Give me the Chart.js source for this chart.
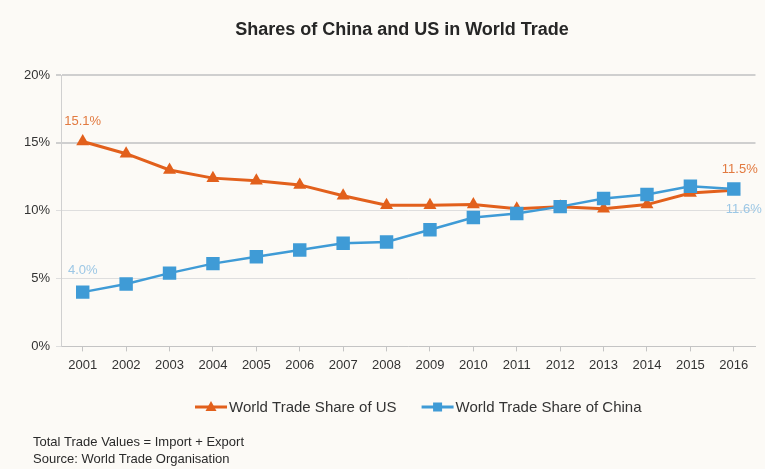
<!DOCTYPE html>
<html>
<head>
<meta charset="utf-8">
<script src="https://cdn.jsdelivr.net/npm/chart.js@4/dist/chart.umd.min.js"></script>
<style>
  html, body { margin: 0; padding: 0; background: #fcfaf6; }
  #wrap { position: relative; width: 765px; height: 469px; }
</style>
</head>
<body>
<div id="wrap"><canvas id="c" width="765" height="469"></canvas></div>
<script>
const years = ['2001','2002','2003','2004','2005','2006','2007','2008','2009','2010','2011','2012','2013','2014','2015','2016'];
const usShare =    [15.1, 14.2, 13.0, 12.4, 12.2, 11.9, 11.1, 10.4, 10.4, 10.45, 10.15, 10.3, 10.15, 10.45, 11.3, 11.5];
const chinaShare = [4.0, 4.6, 5.4, 6.1, 6.6, 7.1, 7.6, 7.7, 8.6, 9.5, 9.8, 10.3, 10.9, 11.2, 11.8, 11.6];
const yTicks = [0, 5, 10, 15, 20];
const titleText = 'Shares of China and US in World Trade';
const seriesNames = ['World Trade Share of US', 'World Trade Share of China'];
const footnotes = ['Total Trade Values = Import + Export', 'Source: World Trade Organisation'];

const ORANGE = '#e2601c';
const BLUE = '#3f9bd6';
const FONT = '"Liberation Sans", Arial, sans-serif';

// Value labels on the first and last point of each series
const endLabels = {
  id: 'endLabels',
  afterDatasetsDraw(chart) {
    const ctx = chart.ctx;
    ctx.save();
    ctx.font = '13px ' + FONT;
    ctx.textAlign = 'center';
    ctx.textBaseline = 'middle';
    const spec = [
      { ds: 0, idx: 0, dx: 0, dy: -20, color: '#e27a40' },
      { ds: 1, idx: 0, dx: 0, dy: -22, color: '#9cc7e5' },
      { ds: 0, idx: years.length - 1, dx: 6, dy: -21, color: '#e27a40' },
      { ds: 1, idx: years.length - 1, dx: 10, dy: 20, color: '#9cc7e5' }
    ];
    spec.forEach(s => {
      const meta = chart.getDatasetMeta(s.ds);
      const pt = meta.data[s.idx];
      const v = chart.data.datasets[s.ds].data[s.idx];
      ctx.fillStyle = s.color;
      ctx.fillText(v.toFixed(1) + '%', pt.x + s.dx, pt.y + s.dy);
    });
    ctx.restore();
  }
};

// Title, line-and-marker legend, and footnotes
const decorations = {
  id: 'decorations',
  afterDraw(chart) {
    const ctx = chart.ctx;
    const area = chart.chartArea;
    ctx.save();
    ctx.fillStyle = '#262626';
    ctx.font = 'bold 18px ' + FONT;
    ctx.textAlign = 'center';
    ctx.textBaseline = 'middle';
    ctx.fillText(titleText, 402, 30);

    // legend
    ctx.font = '15px ' + FONT;
    ctx.textAlign = 'left';
    const lineLen = 32, gap = 2, itemGap = 25;
    const widths = seriesNames.map(n => ctx.measureText(n).width);
    const total = widths.reduce((a, w) => a + lineLen + gap + w, 0) + itemGap;
    let x = (area.left + area.right) / 2 + 10 - total / 2;
    const ly = 407;
    const styles = [
      { color: ORANGE, shape: 'triangle' },
      { color: BLUE, shape: 'rect' }
    ];
    seriesNames.forEach((name, i) => {
      const st = styles[i];
      ctx.strokeStyle = st.color;
      ctx.lineWidth = 3;
      ctx.beginPath();
      ctx.moveTo(x, ly);
      ctx.lineTo(x + lineLen, ly);
      ctx.stroke();
      ctx.fillStyle = st.color;
      const cx = x + lineLen / 2;
      ctx.beginPath();
      if (st.shape === 'triangle') {
        ctx.moveTo(cx, ly - 6);
        ctx.lineTo(cx + 5.5, ly + 4);
        ctx.lineTo(cx - 5.5, ly + 4);
        ctx.closePath();
      } else {
        ctx.rect(cx - 4.5, ly - 4.5, 9, 9);
      }
      ctx.fill();
      ctx.fillStyle = '#333333';
      ctx.fillText(name, x + lineLen + gap, ly + 1);
      x += lineLen + gap + widths[i] + itemGap;
    });

    // footnotes
    ctx.font = '13px ' + FONT;
    ctx.fillStyle = '#2a2a2a';
    footnotes.forEach((t, i) => ctx.fillText(t, 33, 442 + i * 17));
    ctx.restore();
  }
};

new Chart(document.getElementById('c'), {
  type: 'line',
  data: {
    labels: years,
    datasets: [
      {
        label: seriesNames[0],
        data: usShare,
        borderColor: ORANGE,
        backgroundColor: ORANGE,
        borderWidth: 3,
        pointStyle: 'triangle',
        pointRadius: 7.5,
        pointHoverRadius: 7.5,
        pointBorderWidth: 0,
        tension: 0,
        order: 1
      },
      {
        label: seriesNames[1],
        data: chinaShare,
        borderColor: BLUE,
        backgroundColor: BLUE,
        borderWidth: 2.5,
        pointStyle: 'rect',
        pointRadius: 9.5,
        pointHoverRadius: 9.5,
        pointBorderWidth: 0,
        tension: 0,
        order: 0
      }
    ]
  },
  options: {
    responsive: false,
    animation: false,
    layout: { padding: { top: 75, left: 18, right: 8, bottom: 90 } },
    plugins: {
      legend: { display: false },
      title: { display: false },
      tooltip: { enabled: false }
    },
    scales: {
      x: {
        offset: true,
        grid: {
          display: true,
          drawOnChartArea: false,
          drawTicks: true,
          tickLength: 5,
          color: '#c4c4c4'
        },
        border: { color: '#c4c4c4', width: 1 },
        ticks: {
          color: '#333333',
          font: { family: FONT, size: 13 },
          padding: 6,
          maxRotation: 0,
          autoSkip: false
        }
      },
      y: {
        min: 0,
        max: 20,
        afterBuildTicks(axis) { axis.ticks = yTicks.map(v => ({ value: v })); },
        grid: {
          color: ctx => (ctx.tick && ctx.tick.value >= 15) ? '#cfcfcf' : '#dedede',
          lineWidth: ctx => (ctx.tick && ctx.tick.value >= 15) ? 2 : 1,
          drawTicks: true,
          tickLength: 5
        },
        border: { color: '#d0d0d0', width: 1 },
        ticks: {
          color: '#333333',
          font: { family: FONT, size: 13 },
          padding: 6,
          callback: v => v + '%'
        }
      }
    }
  },
  plugins: [endLabels, decorations]
});
</script>
</body>
</html>
